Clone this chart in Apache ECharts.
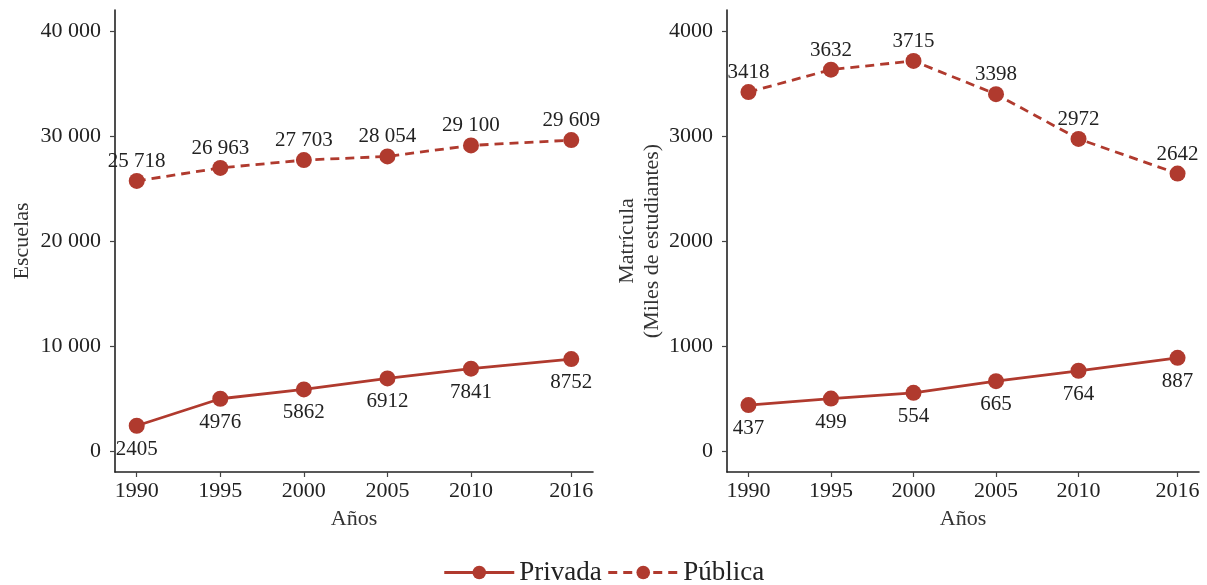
<!DOCTYPE html>
<html>
<head>
<meta charset="utf-8">
<script src="https://cdn.jsdelivr.net/npm/echarts@6/dist/echarts.min.js"></script>
<style>
  html, body { margin: 0; padding: 0; background: #fff; }
  #chart { width: 1207px; height: 585px; }
</style>
</head>
<body>
<div id="chart"></div>
<script>
const years = [1990, 1995, 2000, 2005, 2010, 2016];
const escuelasPrivada = [2405, 4976, 5862, 6912, 7841, 8752];
const escuelasPublica = [25718, 26963, 27703, 28054, 29100, 29609];
const matriculaPrivada = [437, 499, 554, 665, 764, 887];
const matriculaPublica = [3418, 3632, 3715, 3398, 2972, 2642];
const escuelasTicks = [0, 10000, 20000, 30000, 40000];
const matriculaTicks = [0, 1000, 2000, 3000, 4000];

const red = '#B03A2E';
const font = 'Liberation Serif';

// 10 000 style only for 5+ digits
function fmtSpace(v) {
  v = Math.round(v);
  if (Math.abs(v) < 10000) return String(v);
  return String(v).replace(/\B(?=(\d{3})+(?!\d))/g, ' ');
}

function pairs(vals) {
  return years.map((y, i) => [y, vals[i]]);
}

function xAxis(gridIndex) {
  return {
    type: 'value', gridIndex: gridIndex,
    min: 1988.7, max: 2017.3,
    name: 'Años', nameLocation: 'middle', nameGap: 36,
    nameTextStyle: { fontFamily: font, fontSize: 22, color: '#333' },
    axisLine: { show: true, onZero: false, lineStyle: { color: '#222', width: 1.6 } },
    axisTick: { show: true, customValues: years, length: 5, lineStyle: { color: '#444', width: 1.2 } },
    axisLabel: { customValues: years, fontFamily: font, fontSize: 22, color: '#222', margin: 8,
      formatter: v => String(Math.round(v)) },
    splitLine: { show: false }
  };
}

function yAxis(gridIndex, min, max, ticks, name, gap, fmt) {
  return {
    type: 'value', gridIndex: gridIndex,
    min: min, max: max,
    name: name, nameLocation: 'middle', nameGap: gap, nameRotate: 90,
    nameTextStyle: { fontFamily: font, fontSize: 22, color: '#333', lineHeight: 25 },
    axisLine: { show: true, onZero: false, lineStyle: { color: '#222', width: 1.6 } },
    axisTick: { show: true, customValues: ticks, length: 5, lineStyle: { color: '#444', width: 1.2 } },
    axisLabel: { customValues: ticks, fontFamily: font, fontSize: 22, color: '#222', margin: 14, formatter: fmt },
    splitLine: { show: false }
  };
}

function series(name, vals, idx, dashed, fmt) {
  return {
    name: name, type: 'line',
    xAxisIndex: idx, yAxisIndex: idx,
    data: pairs(vals),
    symbol: 'circle', symbolSize: 16,
    itemStyle: { color: red },
    lineStyle: { color: red, width: 2.8, type: dashed ? [9, 6] : 'solid' },
    label: {
      show: true,
      position: dashed ? 'top' : 'bottom',
      distance: dashed ? 1 : 5,
      fontFamily: font, fontSize: 21, color: '#222',
      formatter: p => fmt(p.value[1])
    },
    z: 3
  };
}

const chart = echarts.init(document.getElementById('chart'));
chart.setOption({
  animation: false,
  textStyle: { fontFamily: font },
  grid: [
    { left: 115, top: 10, width: 478, height: 462 },
    { left: 727, top: 10, width: 472, height: 462 }
  ],
  xAxis: [xAxis(0), xAxis(1)],
  yAxis: [
    yAxis(0, -2000, 42000, escuelasTicks, 'Escuelas', 80, fmtSpace),
    yAxis(1, -200, 4200, matriculaTicks, 'Matrícula\n(Miles de estudiantes)', 61, v => String(v))
  ],
  legend: {
    top: 554, left: 'center',
    itemWidth: 70, itemHeight: 17, itemGap: 5,
    lineStyle: { width: 3 },
    textStyle: { fontFamily: font, fontSize: 27, color: '#222' },
    data: ['Privada', 'Pública']
  },
  series: [
    series('Privada', escuelasPrivada, 0, false, fmtSpace),
    series('Pública', escuelasPublica, 0, true, fmtSpace),
    series('Privada', matriculaPrivada, 1, false, v => String(v)),
    series('Pública', matriculaPublica, 1, true, v => String(v))
  ]
});
</script>
</body>
</html>
